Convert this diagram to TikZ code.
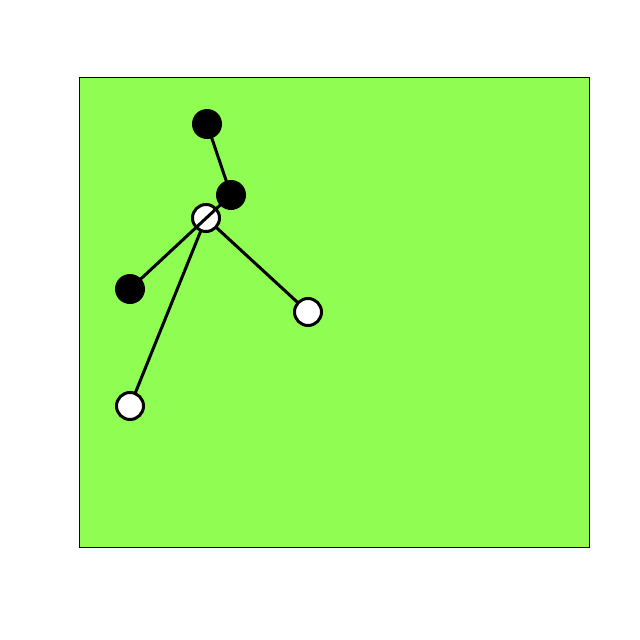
\documentclass[tikz,border=0pt]{standalone}
\begin{document}
\begin{tikzpicture}[x=1pt,y=-1pt,
  blackdot/.style={circle,fill=black,minimum size=30pt,inner sep=0pt},
  whitedot/.style={circle,fill=white,draw=black,line width=3pt,minimum size=27pt,inner sep=0pt},
  edge/.style={line width=3pt,black}]
\useasboundingbox (0,0) rectangle (640,640);
\draw[fill={rgb,255:red,143;green,253;blue,82},line width=1pt] (79.5,77.5) rectangle (589.5,547.5);
\coordinate (pc) at (206,218);
\coordinate (pw1) at (308,312);
\coordinate (pw2) at (130,406);
\coordinate (pb1) at (207,124);
\coordinate (pb2) at (231,195);
\coordinate (pb3) at (130,289);
\draw[edge] (pc) -- (pw1);
\draw[edge] (pc) -- (pw2);
\draw[edge] (pb1) -- (pb2);
\node[whitedot] (c) at (pc) {};
\node[whitedot] (w1) at (pw1) {};
\node[whitedot] (w2) at (pw2) {};
\draw[edge] (pb2) -- (pb3);
\node[blackdot] (b1) at (pb1) {};
\node[blackdot] (b2) at (pb2) {};
\node[blackdot] (b3) at (pb3) {};
\end{tikzpicture}
\end{document}
